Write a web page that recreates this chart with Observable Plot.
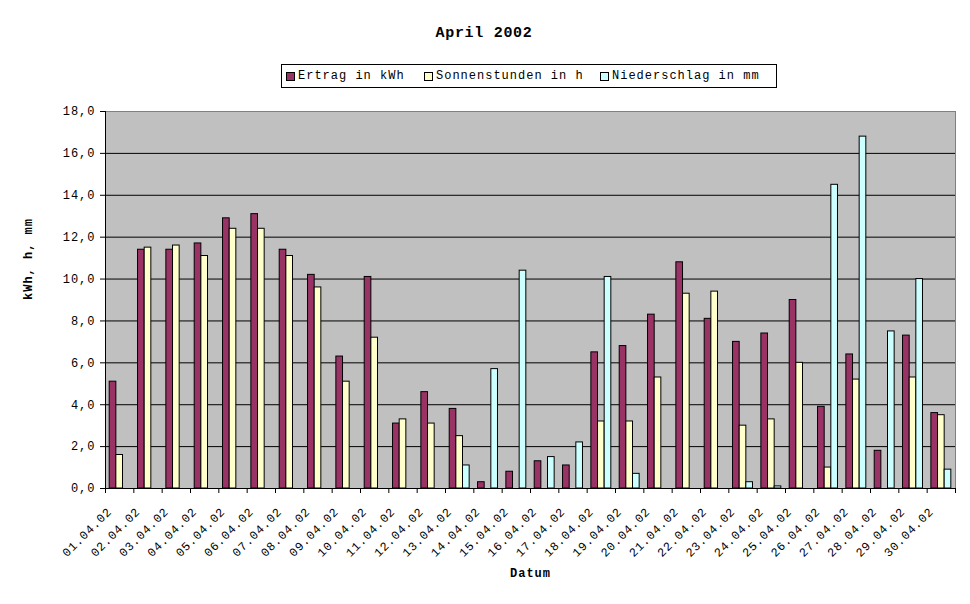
<!DOCTYPE html>
<html><head><meta charset="utf-8">
<script src="https://cdn.jsdelivr.net/npm/d3@7"></script>
<script src="https://cdn.jsdelivr.net/npm/@observablehq/plot@0.6"></script>
<style>
body{margin:0;background:#fff;}
#wrap{position:relative;width:970px;height:604px;font-family:"Liberation Mono",monospace;color:#000;}
#title{position:absolute;left:0;width:968px;top:25px;text-align:center;font-weight:bold;font-size:15px;letter-spacing:0.7px;}
#legend{position:absolute;left:281px;top:64px;width:494px;height:22px;border:1px solid #000;background:#fff;font-size:12px;letter-spacing:1px;}
.sw{position:absolute;top:7px;width:7px;height:7px;border:1px solid #000;box-sizing:content-box;}
.lt{position:absolute;top:4px;white-space:pre;}
#chart{position:absolute;left:0;top:0;}
</style>
</head><body>
<div id="wrap">
  <div id="chart"></div>
  <div id="title">April 2002</div>
  <div id="legend"></div>
</div>
<script>
const dates = ["01.04.02","02.04.02","03.04.02","04.04.02","05.04.02","06.04.02","07.04.02","08.04.02","09.04.02","10.04.02",
  "11.04.02","12.04.02","13.04.02","14.04.02","15.04.02","16.04.02","17.04.02","18.04.02","19.04.02","20.04.02",
  "21.04.02","22.04.02","23.04.02","24.04.02","25.04.02","26.04.02","27.04.02","28.04.02","29.04.02","30.04.02"];
const ertrag = [5.1,11.4,11.4,11.7,12.9,13.1,11.4,10.2,6.3,10.1,3.1,4.6,3.8,0.3,0.8,1.3,1.1,6.5,6.8,8.3,10.8,8.1,7.0,7.4,9.0,3.9,6.4,1.8,7.3,3.6];
const sonnen = [1.6,11.5,11.6,11.1,12.4,12.4,11.1,9.6,5.1,7.2,3.3,3.1,2.5,0,0,0,0,3.2,3.2,5.3,9.3,9.4,3.0,3.3,6.0,1.0,5.2,0,5.3,3.5];
const nieder = [0,0,0,0,0,0,0,0,0,0,0,0,1.1,5.7,10.4,1.5,2.2,10.1,0.7,0,0,0,0.3,0.1,0,14.5,16.8,7.5,10.0,0.9];
const seriesNames = ["Ertrag in kWh","Sonnenstunden in h","Niederschlag in mm"];
const seriesColors = ["#993366","#FFFFCC","#CCFFFF"];
const yTicks = [0,2,4,6,8,10,12,14,16,18];

const W = 970, H = 604, mL = 105, mR = 15, mT = 111, mB = 116;
const bw = (W - mL - mR) / dates.length;
const barW = 6.65, gapL = 4.2;
const allSeries = [ertrag, sonnen, nieder];
const fmt = v => d3.format(".1f")(v).replace(".", ",");

const barMarks = allSeries.map((vals, i) => Plot.rectY(
  dates.map((d, j) => ({date: d, value: vals[j]})).filter(r => r.value > 0),
  {x: "date", y: "value", fill: seriesColors[i], stroke: "#000", strokeWidth: 1,
   insetLeft: gapL + i * barW, insetRight: bw - gapL - (i + 1) * barW}
));

const chart = Plot.plot({
  width: W, height: H,
  marginLeft: mL, marginRight: mR, marginTop: mT, marginBottom: mB,
  style: {fontFamily: "Liberation Mono, monospace", fontSize: "12px", background: "transparent", letterSpacing: "1px", color: "#000"},
  x: {type: "band", domain: dates, padding: 0, round: false},
  y: {domain: [0, 18], range: [H - mB, mT]},
  marks: [
    Plot.frame({fill: "#C0C0C0", stroke: "#808080"}),
    Plot.gridY([2,4,6,8,10,12,14,16], {stroke: "#000", strokeOpacity: 1}),
    ...barMarks,
    Plot.ruleY([0], {stroke: "#000"}),
    Plot.ruleX([dates[0]], {x: d => d, y1: 0, y2: 18, dx: -bw / 2, stroke: "#000"}),
    Plot.ruleX(dates, {x: d => d, y1: 0, y2: 0, insetBottom: -5, dx: -bw / 2, stroke: "#000"}),
    Plot.ruleX([dates[dates.length - 1]], {x: d => d, y1: 0, y2: 0, insetBottom: -5, dx: bw / 2, stroke: "#000"}),
    Plot.axisY({ticks: yTicks, tickFormat: fmt, tickSize: 5, tickPadding: 5, label: null}),
    Plot.axisX({tickSize: 0, tickPadding: 21, tickRotate: -45, dx: -10, label: null}),
    Plot.text(["kWh, h, mm"], {frameAnchor: "left", dx: -77, rotate: -90, fontWeight: "bold", text: d => d}),
    Plot.text(["Datum"], {frameAnchor: "bottom", dy: 88, fontWeight: "bold", text: d => d})
  ]
});
d3.select(chart).selectAll('g[aria-label="x-axis tick label"]').style("letter-spacing", "0.8px");
document.getElementById("chart").appendChild(chart);

const leg = document.getElementById("legend");
const swX = [4, 142, 318];
seriesNames.forEach((n, i) => {
  const s = document.createElement("div");
  s.className = "sw"; s.style.left = swX[i] + "px"; s.style.background = seriesColors[i];
  leg.appendChild(s);
  const t = document.createElement("div");
  t.className = "lt"; t.style.left = (swX[i] + 12) + "px"; t.textContent = n;
  leg.appendChild(t);
});
</script>
</body></html>
